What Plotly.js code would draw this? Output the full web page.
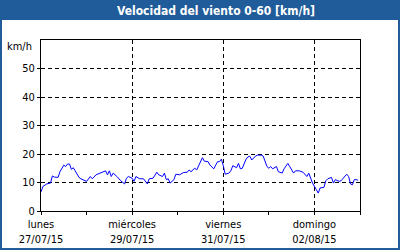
<!DOCTYPE html>
<html>
<head>
<meta charset="utf-8">
<script src="https://cdn.plot.ly/plotly-3.0.1.min.js"></script>
<style>
html,body{margin:0;padding:0;background:#fff;}
#chart{width:400px;height:250px;}
</style>
</head>
<body>
<div id="chart"></div>
<script>
// Wind speed samples (km/h)
var times = [
"2015-07-27 00:00","2015-07-27 01:00","2015-07-27 03:00","2015-07-27 05:00","2015-07-27 06:00","2015-07-27 07:00","2015-07-27 09:00","2015-07-27 10:00","2015-07-27 12:00","2015-07-27 13:00","2015-07-27 14:00","2015-07-27 15:00","2015-07-27 16:00","2015-07-27 17:00","2015-07-27 18:00","2015-07-27 20:00","2015-07-27 21:00",
"2015-07-28 00:00","2015-07-28 02:00","2015-07-28 03:00","2015-07-28 05:00","2015-07-28 07:00","2015-07-28 10:00","2015-07-28 11:00","2015-07-28 12:00","2015-07-28 13:00","2015-07-28 14:00","2015-07-28 16:00","2015-07-28 18:00","2015-07-28 20:00","2015-07-28 21:00","2015-07-28 22:00",
"2015-07-29 00:00","2015-07-29 01:00","2015-07-29 02:00","2015-07-29 04:00","2015-07-29 06:00","2015-07-29 08:00","2015-07-29 09:00","2015-07-29 11:00","2015-07-29 13:00","2015-07-29 14:00","2015-07-29 16:00","2015-07-29 17:00","2015-07-29 18:00","2015-07-29 19:00","2015-07-29 20:00","2015-07-29 22:00","2015-07-29 23:00",
"2015-07-30 01:00","2015-07-30 03:00","2015-07-30 05:00","2015-07-30 06:00","2015-07-30 07:00","2015-07-30 09:00","2015-07-30 10:00","2015-07-30 12:00","2015-07-30 13:00","2015-07-30 14:00","2015-07-30 16:00","2015-07-30 17:00","2015-07-30 19:00","2015-07-30 20:00","2015-07-30 21:00","2015-07-30 22:00","2015-07-30 23:00",
"2015-07-31 00:00","2015-07-31 01:00","2015-07-31 03:00","2015-07-31 04:00","2015-07-31 05:00","2015-07-31 07:00","2015-07-31 08:00","2015-07-31 09:00","2015-07-31 10:00","2015-07-31 12:00","2015-07-31 13:00","2015-07-31 14:00","2015-07-31 15:00","2015-07-31 17:00","2015-07-31 18:00","2015-07-31 20:00","2015-07-31 21:00","2015-07-31 23:00",
"2015-08-01 00:00","2015-08-01 01:00","2015-08-01 02:00","2015-08-01 04:00","2015-08-01 05:00","2015-08-01 07:00","2015-08-01 08:00","2015-08-01 10:00","2015-08-01 11:00","2015-08-01 13:00","2015-08-01 14:00","2015-08-01 16:00","2015-08-01 18:00","2015-08-01 20:00","2015-08-01 21:00","2015-08-01 22:00","2015-08-01 23:00",
"2015-08-02 01:00","2015-08-02 02:00","2015-08-02 03:00","2015-08-02 05:00","2015-08-02 06:00","2015-08-02 07:00","2015-08-02 09:00","2015-08-02 10:00","2015-08-02 11:00","2015-08-02 13:00","2015-08-02 14:00","2015-08-02 17:00","2015-08-02 18:00","2015-08-02 19:00","2015-08-02 20:00","2015-08-02 21:00","2015-08-02 22:00","2015-08-02 23:00"
];
var speeds = [
6.7,8.6,9.5,9.8,12.3,11.9,11.8,13.8,16.1,15.6,16.5,16.5,14.6,15.2,14.1,11.8,11.3,
10.4,12.1,11.3,12.7,13.3,14.1,12.7,14.1,12.1,13.3,12.1,10.6,9.5,11.5,12.1,
11.5,10.4,12.1,11.3,11.3,9.5,11.3,11.5,13.6,12.7,12.1,13.3,11.0,11.3,9.8,11.0,12.9,
12.7,13.5,13.6,14.4,13.8,15.0,14.4,16.9,18.7,17.5,17.3,16.1,14.8,16.1,17.3,17.3,18.2,
15.9,12.9,13.3,14.1,15.9,15.2,16.7,14.8,15.0,18.2,19.0,19.2,17.9,19.3,19.6,19.6,19.3,15.6,
15.0,15.6,14.8,15.6,13.8,13.3,14.8,16.7,15.6,13.3,14.1,14.1,13.6,12.1,13.3,11.5,9.8,
7.5,6.3,8.1,8.3,10.6,11.3,11.8,9.8,11.0,10.4,10.6,12.9,12.1,9.5,9.2,11.0,11.0,10.8
];
var tickDates = ["2015-07-27","2015-07-29","2015-07-31","2015-08-02"];
var tickLabels = ["lunes<br>27/07/15","miércoles<br>29/07/15","viernes<br>31/07/15","domingo<br>02/08/15"];
var yTicks = [0,10,20,30,40,50];
var chartTitle = "Velocidad del viento 0-60 [km/h]";
var unitLabel = "km/h";

var BLUE = "#1f5c99";
var FONT = "DejaVu Sans Condensed, Liberation Sans, sans-serif";
// pixel -> paper helpers (plot area: x 41..360, y 40..211)
var L = 41, R = 40, T = 40, B = 39, W = 400, H = 250;
var pw = W - L - R, ph = H - T - B;
function px(x){ return (x - L) / pw; }
function py(y){ return (H - B - y) / ph; }

var trace = {
  x: times, y: speeds, type: "scatter", mode: "lines",
  line: {color: "#0000ff", width: 1}, hoverinfo: "skip"
};

var layout = {
  width: W, height: H,
  margin: {l: L, r: R, t: T, b: B, pad: 0},
  paper_bgcolor: "#ffffff", plot_bgcolor: "#ffffff",
  showlegend: false,
  font: {family: FONT, size: 11, color: "#000"},
  title: {
    text: chartTitle, xref: "container", yref: "container",
    x: 216 / W, y: 1 - 10.5 / H, xanchor: "center", yanchor: "middle",
    font: {family: FONT, size: 12, color: "#ffffff", weight: "bold"}
  },
  xaxis: {
    type: "date",
    range: ["2015-07-27 00:00", "2015-08-03 00:00"],
    tickmode: "array", tickvals: tickDates, ticktext: tickLabels,
    ticks: "outside", ticklen: 3, tickcolor: "#000",
    showgrid: true, gridcolor: "#000", gridwidth: 1, griddash: "4px,3px",
    showline: true, linecolor: "#000", linewidth: 1, mirror: true,
    zeroline: false,
    minor: {dtick: 86400000, tick0: "2015-07-27", ticks: "outside", ticklen: 3, tickcolor: "#000", showgrid: false},
    tickfont: {family: FONT, size: 11, color: "#000"}
  },
  yaxis: {
    range: [0, 60], tickmode: "array", tickvals: yTicks,
    ticks: "outside", ticklen: 3, tickcolor: "#000",
    showgrid: true, gridcolor: "#000", gridwidth: 1, griddash: "4px,3px",
    showline: true, linecolor: "#000", linewidth: 1, mirror: true,
    zeroline: false,
    tickfont: {family: FONT, size: 11, color: "#000"}
  },
  annotations: [{
    text: unitLabel, xref: "paper", yref: "paper",
    x: px(34), y: py(46), xanchor: "right", yanchor: "middle",
    showarrow: false, font: {family: FONT, size: 11, color: "#000"}
  }],
  shapes: [
    {type: "rect", xref: "paper", yref: "paper", layer: "above",
     x0: px(0), x1: px(400), y0: py(20), y1: py(0),
     fillcolor: BLUE, line: {width: 0}},
    {type: "rect", xref: "paper", yref: "paper", layer: "above",
     x0: px(1), x1: px(399), y0: py(249), y1: py(1),
     fillcolor: "rgba(0,0,0,0)", line: {color: BLUE, width: 2}}
  ]
};

Plotly.newPlot("chart", [trace], layout, {staticPlot: true, displayModeBar: false});
</script>
</body>
</html>
